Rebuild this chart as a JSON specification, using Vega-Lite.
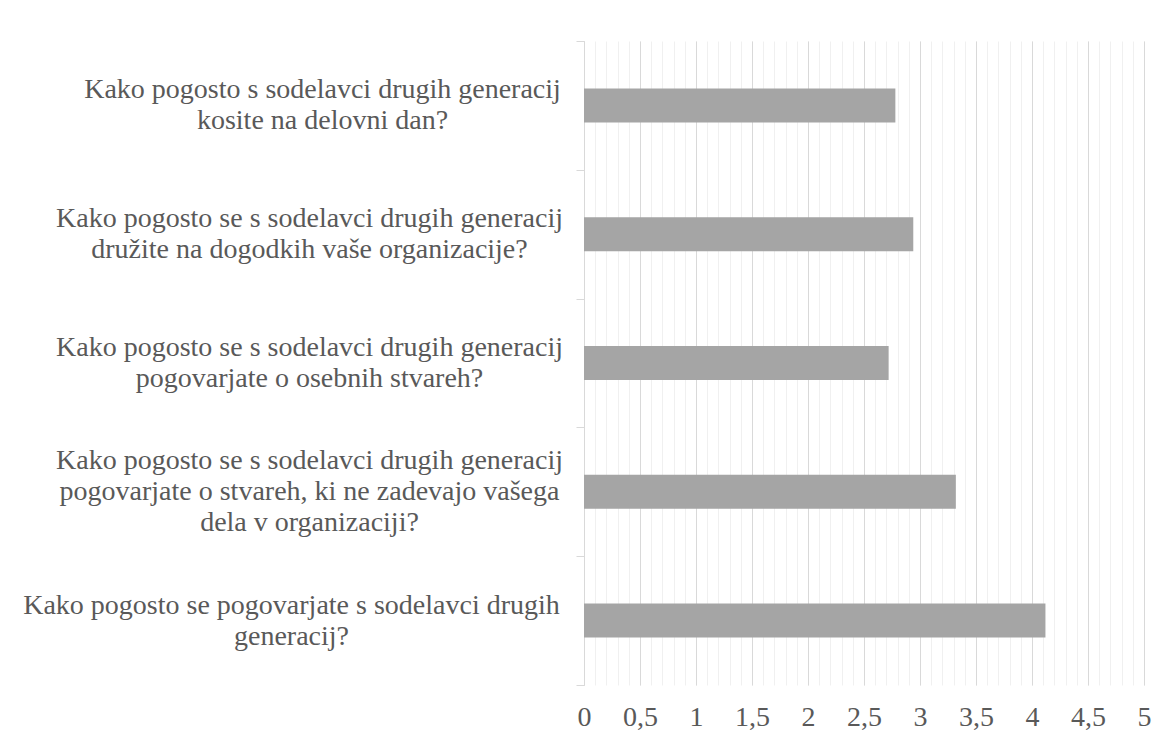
{
  "$schema": "https://vega.github.io/schema/vega-lite/v6.json",
  "width": 560,
  "height": 644,
  "autosize": {"type": "none"},
  "padding": {"left": 584, "top": 41, "right": 25, "bottom": 57},
  "background": "white",
  "config": {"view": {"stroke": null}, "font": "Liberation Serif"},
  "data": {
    "values": [
      {"q": "Kako pogosto s sodelavci drugih generacij|kosite na delovni dan?", "v": 2.78},
      {"q": "Kako pogosto se s sodelavci drugih generacij|družite na dogodkih vaše organizacije?", "v": 2.94},
      {"q": "Kako pogosto se s sodelavci drugih generacij|pogovarjate o osebnih stvareh?", "v": 2.72},
      {"q": "Kako pogosto se s sodelavci drugih generacij|pogovarjate o stvareh, ki ne zadevajo vašega|dela v organizaciji?", "v": 3.32},
      {"q": "Kako pogosto se pogovarjate s sodelavci drugih|generacij?", "v": 4.12}
    ]
  },
  "encoding": {
    "y": {
      "field": "q",
      "type": "nominal",
      "sort": null,
      "scale": {"paddingInner": 0, "paddingOuter": 0},
      "axis": {
        "title": null,
        "labelExpr": "split(datum.label, '|')",
        "labelAlign": "center",
        "labelBaseline": "middle",
        "labelOffset": {"condition": {"test": "indexof(datum.label, 'vašega') >= 0", "value": -31}, "value": -15.5},
        "labelPadding": {"condition": [
          {"test": "indexof(datum.label, 'kosite') >= 0", "value": 254},
          {"test": "indexof(datum.label, 'generacij?') >= 0", "value": 285}
        ], "value": 267},
        "labelLimit": 800,
        "labelFont": "Liberation Serif",
        "labelFontSize": 28,
        "labelColor": "#595959",
        "labelLineHeight": 31,
        "tickBand": "extent",
        "tickSize": 8,
        "tickColor": "#d9d9d9",
        "domainColor": "#d9d9d9",
        "grid": false
      }
    }
  },
  "layer": [
    {
      "mark": {"type": "bar", "color": "#a5a5a5", "opacity": 0, "height": {"band": 0.264}},
      "encoding": {
        "x": {
          "field": "v",
          "type": "quantitative",
          "scale": {"domain": [0, 5], "nice": false},
          "axis": {
            "orient": "top",
            "title": null,
            "values": [0,0.1,0.2,0.3,0.4,0.5,0.6,0.7,0.8,0.9,1,1.1,1.2,1.3,1.4,1.5,1.6,1.7,1.8,1.9,2,2.1,2.2,2.3,2.4,2.5,2.6,2.7,2.8,2.9,3,3.1,3.2,3.3,3.4,3.5,3.6,3.7,3.8,3.9,4,4.1,4.2,4.3,4.4,4.5,4.6,4.7,4.8,4.9,5],
            "grid": true,
            "gridColor": "#f0f0f0",
            "labels": false,
            "ticks": false,
            "domain": false
          }
        }
      }
    },
    {
      "mark": {"type": "bar", "color": "#a5a5a5", "height": {"band": 0.264}},
      "encoding": {
        "x": {
          "field": "v",
          "type": "quantitative",
          "scale": {"domain": [0, 5], "nice": false},
          "axis": {
            "orient": "bottom",
            "title": null,
            "values": [0,0.5,1,1.5,2,2.5,3,3.5,4,4.5,5],
            "format": "~g",
            "labelExpr": "replace(datum.label, '.', ',')",
            "grid": true,
            "gridColor": "#d9d9d9",
            "ticks": false,
            "tickSize": 0,
            "domain": false,
            "labelFont": "Liberation Serif",
            "labelFontSize": 28,
            "labelColor": "#595959",
            "labelPadding": 18,
            "labelFlush": false,
            "labelOverlap": false
          }
        }
      }
    }
  ],
  "resolve": {"axis": {"x": "independent"}}
}
